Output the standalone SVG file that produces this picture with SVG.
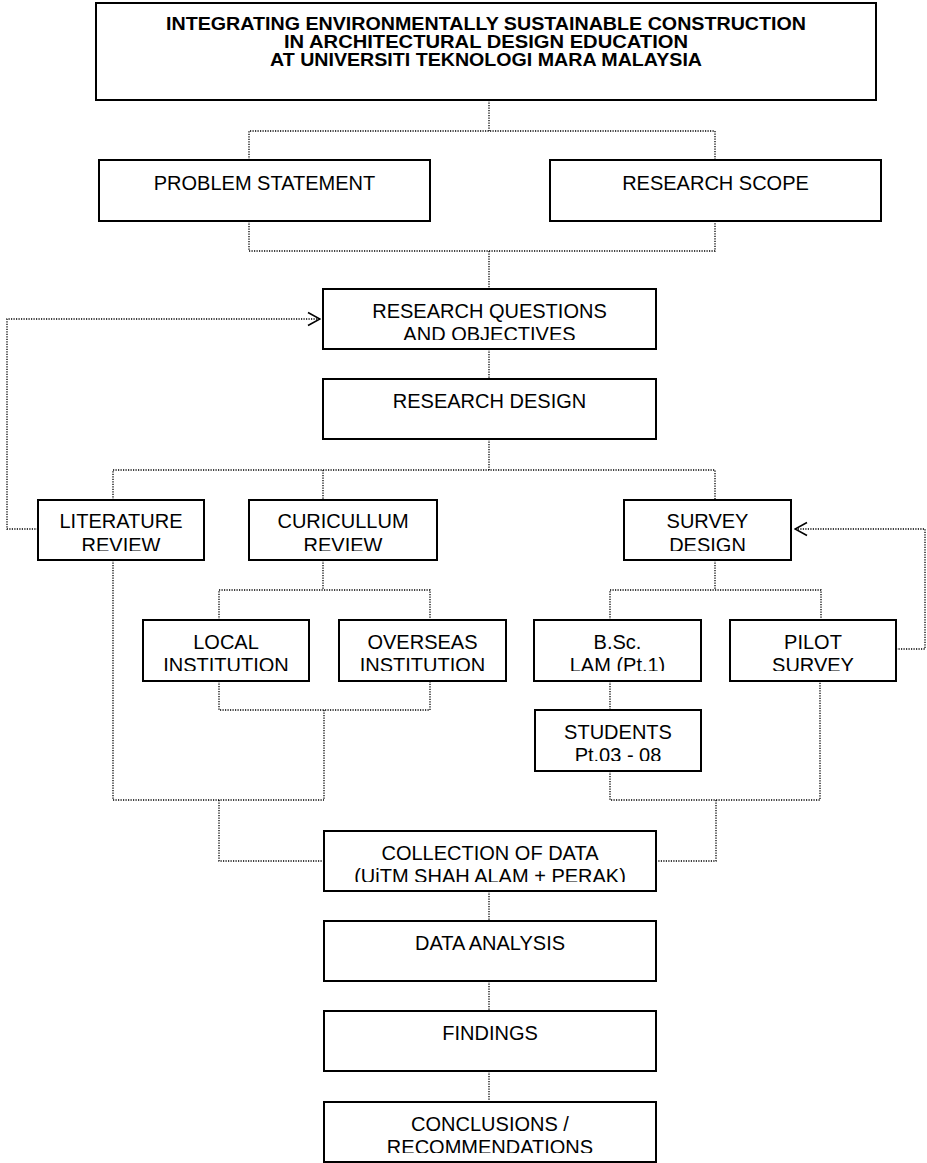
<svg xmlns="http://www.w3.org/2000/svg" width="927" height="1163" viewBox="0 0 927 1163">
<style>
.box{fill:#fff;stroke:#000;stroke-width:2}
.t{font-family:"Liberation Sans",Arial,sans-serif;font-size:20px;text-anchor:middle;fill:#000}
.b{font-weight:bold;font-size:18px}
.c{fill:none;stroke:#000;stroke-width:1.3;stroke-dasharray:1.2 1.3}
</style>
<defs>
<marker id="open" markerUnits="userSpaceOnUse" markerWidth="14" markerHeight="16" viewBox="0 0 14 16" refX="13" refY="8" orient="auto">
<path d="M1,1.5 L13,8 L1,14.5" fill="none" stroke="#000" stroke-width="1.6"/>
</marker>
<clipPath id="k-rq"><rect x="323" y="289" width="333" height="51"/></clipPath>
<clipPath id="k-lr"><rect x="38" y="500" width="166" height="51"/></clipPath>
<clipPath id="k-cr"><rect x="249" y="500" width="188" height="51"/></clipPath>
<clipPath id="k-sd"><rect x="624" y="500" width="167" height="51"/></clipPath>
<clipPath id="k-lo"><rect x="143" y="620" width="166" height="51"/></clipPath>
<clipPath id="k-ov"><rect x="339" y="620" width="167" height="51"/></clipPath>
<clipPath id="k-bs"><rect x="534" y="620" width="167" height="51"/></clipPath>
<clipPath id="k-pi"><rect x="730" y="620" width="166" height="51"/></clipPath>
<clipPath id="k-st"><rect x="535" y="710" width="166" height="51"/></clipPath>
<clipPath id="k-co"><rect x="324" y="831" width="332" height="51"/></clipPath>
<clipPath id="k-cn"><rect x="324" y="1102" width="332" height="51"/></clipPath>
</defs>

<g id="connectors">
<path class="c" d="M489,100 V131"/>
<path class="c" d="M249,160 V131 H715 V160"/>
<path class="c" d="M249,221 V251 H715 V221"/>
<path class="c" d="M489,251 V289"/>
<path class="c" d="M489,349 V379"/>
<path class="c" d="M489,439 V470"/>
<path class="c" d="M113,500 V470 H715 V500"/>
<path class="c" d="M323,470 V500"/>
<path class="c" d="M38,529 H7 V319 H320" marker-end="url(#open)"/>
<path class="c" d="M323,560 V590"/>
<path class="c" d="M219,620 V590 H430 V620"/>
<path class="c" d="M219,681 V710 H430 V681"/>
<path class="c" d="M324,710 V800"/>
<path class="c" d="M113,560 V800 H324"/>
<path class="c" d="M219,800 V861 H324"/>
<path class="c" d="M715,560 V590"/>
<path class="c" d="M610,620 V590 H821 V620"/>
<path class="c" d="M896,649 H925 V529 H795" marker-end="url(#open)"/>
<path class="c" d="M610,681 V710"/>
<path class="c" d="M610,771 V800 H820 V681"/>
<path class="c" d="M716,800 V861 H656"/>
<path class="c" d="M489,891 V921"/>
<path class="c" d="M489,981 V1011"/>
<path class="c" d="M489,1071 V1102"/>
</g>

<g id="title">
<rect class="box" x="96" y="3" width="780" height="97"/>
<text class="t b" x="486" y="30" textLength="640" lengthAdjust="spacingAndGlyphs">INTEGRATING ENVIRONMENTALLY SUSTAINABLE CONSTRUCTION</text>
<text class="t b" x="486" y="48" textLength="404" lengthAdjust="spacingAndGlyphs">IN ARCHITECTURAL DESIGN EDUCATION</text>
<text class="t b" x="486" y="66" textLength="432" lengthAdjust="spacingAndGlyphs">AT UNIVERSITI TEKNOLOGI MARA MALAYSIA</text>
</g>

<g id="problem-statement">
<rect class="box" x="99" y="160" width="331" height="61"/>
<text class="t" x="264.5" y="190">PROBLEM STATEMENT</text>
</g>

<g id="research-scope">
<rect class="box" x="550" y="160" width="331" height="61"/>
<text class="t" x="715.5" y="190">RESEARCH SCOPE</text>
</g>

<g id="research-questions">
<rect class="box" x="323" y="289" width="333" height="60"/>
<g clip-path="url(#k-rq)">
<text class="t" x="489.5" y="318">RESEARCH QUESTIONS</text>
<text class="t" x="489.5" y="341">AND OBJECTIVES</text>
</g>
</g>

<g id="research-design">
<rect class="box" x="323" y="379" width="333" height="60"/>
<text class="t" x="489.5" y="408">RESEARCH DESIGN</text>
</g>

<g id="literature-review">
<rect class="box" x="38" y="500" width="166" height="60"/>
<g clip-path="url(#k-lr)">
<text class="t" x="121" y="528">LITERATURE</text>
<text class="t" x="121" y="552">REVIEW</text>
</g>
</g>

<g id="curicullum-review">
<rect class="box" x="249" y="500" width="188" height="60"/>
<g clip-path="url(#k-cr)">
<text class="t" x="343" y="528">CURICULLUM</text>
<text class="t" x="343" y="552">REVIEW</text>
</g>
</g>

<g id="survey-design">
<rect class="box" x="624" y="500" width="167" height="60"/>
<g clip-path="url(#k-sd)">
<text class="t" x="707.5" y="528">SURVEY</text>
<text class="t" x="707.5" y="552">DESIGN</text>
</g>
</g>

<g id="local-institution">
<rect class="box" x="143" y="620" width="166" height="61"/>
<g clip-path="url(#k-lo)">
<text class="t" x="226" y="649">LOCAL</text>
<text class="t" x="226" y="672">INSTITUTION</text>
</g>
</g>

<g id="overseas-institution">
<rect class="box" x="339" y="620" width="167" height="61"/>
<g clip-path="url(#k-ov)">
<text class="t" x="422.5" y="649">OVERSEAS</text>
<text class="t" x="422.5" y="672">INSTITUTION</text>
</g>
</g>

<g id="bsc-lam">
<rect class="box" x="534" y="620" width="167" height="61"/>
<g clip-path="url(#k-bs)">
<text class="t" x="617.5" y="649">B.Sc.</text>
<text class="t" x="617.5" y="672">LAM (Pt.1)</text>
</g>
</g>

<g id="pilot-survey">
<rect class="box" x="730" y="620" width="166" height="61"/>
<g clip-path="url(#k-pi)">
<text class="t" x="813" y="649">PILOT</text>
<text class="t" x="813" y="672">SURVEY</text>
</g>
</g>

<g id="students">
<rect class="box" x="535" y="710" width="166" height="61"/>
<g clip-path="url(#k-st)">
<text class="t" x="618" y="739">STUDENTS</text>
<text class="t" x="618" y="762">Pt.03 - 08</text>
</g>
</g>

<g id="collection-of-data">
<rect class="box" x="324" y="831" width="332" height="60"/>
<g clip-path="url(#k-co)">
<text class="t" x="490" y="860">COLLECTION OF DATA</text>
<text class="t" x="490" y="883">(UiTM SHAH ALAM + PERAK)</text>
</g>
</g>

<g id="data-analysis">
<rect class="box" x="324" y="921" width="332" height="60"/>
<text class="t" x="490" y="950">DATA ANALYSIS</text>
</g>

<g id="findings">
<rect class="box" x="324" y="1011" width="332" height="60"/>
<text class="t" x="490" y="1040">FINDINGS</text>
</g>

<g id="conclusions">
<rect class="box" x="324" y="1102" width="332" height="60"/>
<g clip-path="url(#k-cn)">
<text class="t" x="490" y="1131">CONCLUSIONS /</text>
<text class="t" x="490" y="1154">RECOMMENDATIONS</text>
</g>
</g>
</svg>
